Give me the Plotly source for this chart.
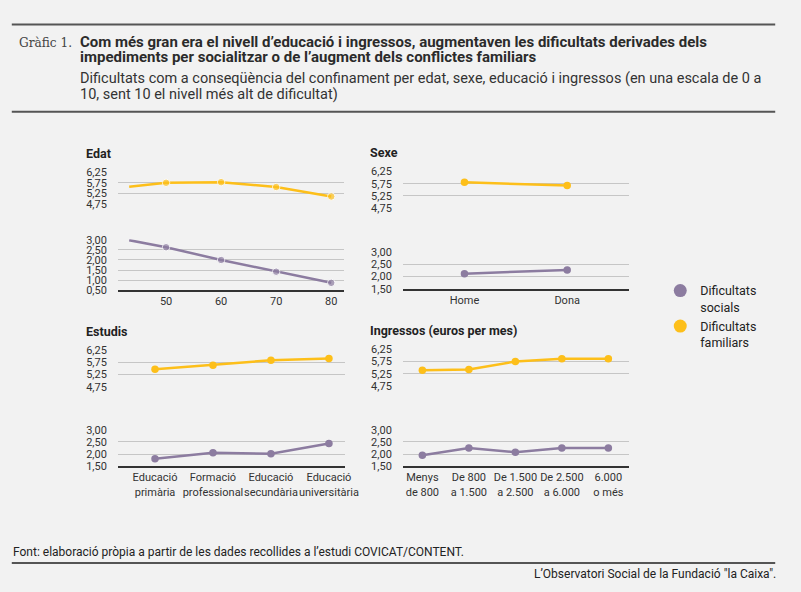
import plotly.graph_objects as go

W, H = 801, 592

# --- data ---
edat_x = [43.3, 50, 60, 70, 80]
edat_familiars = [5.56, 5.75, 5.78, 5.55, 5.10]
edat_socials = [2.98, 2.63, 2.00, 1.42, 0.87]

sexe_cat = ['Home', 'Dona']
sexe_familiars = [5.81, 5.68]
sexe_socials = [2.11, 2.26]

estudis_cat = ['Educació<br>primària', 'Formació<br>professional',
               'Educació<br>secundària', 'Educació<br>universitària']
estudis_familiars = [5.46, 5.63, 5.83, 5.90]
estudis_socials = [1.81, 2.06, 2.02, 2.44]

ingressos_cat = ['Menys<br>de 800', 'De 800<br>a 1.500', 'De 1.500<br>a 2.500',
                 'De 2.500<br>a 6.000', '6.000<br>o més']
ingressos_familiars = [5.40, 5.43, 5.75, 5.86, 5.86]
ingressos_socials = [1.96, 2.25, 2.08, 2.25, 2.25]

upper_ticks = [4.75, 5.25, 5.75, 6.25]
lower_ticks_edat = [0.5, 1.0, 1.5, 2.0, 2.5, 3.0]
lower_ticks = [1.5, 2.0, 2.5, 3.0]

purple = '#8c7ca0'
yellow = '#fdbf1a'
txt = '#333333'
bg = '#f2f2f2'
grid = '#c6c6c6'


def px(x):
    return x / W


def py(y):
    return 1 - y / H


fig = go.Figure()

# panels: (title, x pixel span, upper px span, lower px span, x data, fam, soc, xaxis opts, lower ticks)
panels = [
    ('Edat', (120, 350), (170, 202.3), (239, 290.7), edat_x, edat_familiars, edat_socials,
     dict(range=[41.25, 82.3], tickvals=[50, 60, 70, 80]), lower_ticks_edat),
    ('Sexe', (410, 640), (169.3, 206.7), (251.3, 289), sexe_cat, sexe_familiars, sexe_socials,
     dict(type='category', range=[-0.6, 1.6]), lower_ticks),
    ('Estudis', (120, 350.7), (351.7, 389.3), (433.3, 470.7), estudis_cat, estudis_familiars,
     estudis_socials, dict(type='category', range=[-0.64, 3.27]), lower_ticks),
    ('Ingressos (euros per mes)', (410, 640), (351, 388.7), (433.3, 470.7), ingressos_cat,
     ingressos_familiars, ingressos_socials, dict(type='category', range=[-0.42, 4.44]), lower_ticks),
]

pad = 0.03
for i, (title, xs, up, lo, xd, fam, soc, xopts, lticks) in enumerate(panels):
    xn = i + 1
    yu = 2 * i + 1
    yl = 2 * i + 2
    sizes = [0] + [7.5] * (len(xd) - 1) if title == 'Edat' else 7.5
    fig.add_trace(go.Scatter(x=xd, y=fam, mode='lines+markers', showlegend=False,
                             line=dict(color=yellow, width=2.5),
                             marker=dict(color=yellow, size=sizes),
                             xaxis=f'x{xn}', yaxis=f'y{yu}', hoverinfo='skip'))
    fig.add_trace(go.Scatter(x=xd, y=soc, mode='lines+markers', showlegend=False,
                             line=dict(color=purple, width=2.5),
                             marker=dict(color=purple, size=sizes),
                             xaxis=f'x{xn}', yaxis=f'y{yl}', hoverinfo='skip'))

    xkey = 'xaxis' if xn == 1 else f'xaxis{xn}'
    fig.layout[xkey] = dict(domain=[px(xs[0]), px(xs[1])], anchor=f'y{yl}',
                            showgrid=False, zeroline=False, showline=True,
                            linecolor='#333333', linewidth=1.5, ticks='', tickangle=0,
                            tickfont=dict(size=11, color=txt), fixedrange=True, **xopts)

    # upper segment: 4.75 - 6.25
    span = up[1] - up[0]
    ppu = span / 1.5
    fig.layout['yaxis' if yu == 1 else f'yaxis{yu}'] = dict(
        domain=[py(up[1] + pad * ppu), py(up[0] - pad * ppu)], anchor=f'x{xn}',
        range=[4.75 - pad, 6.25 + pad], tickvals=upper_ticks, tickformat='.2f',
        showgrid=True, gridcolor=grid, gridwidth=1, zeroline=False, showline=False,
        tickfont=dict(size=11, color=txt), ticklabelstandoff=10, fixedrange=True)

    # lower segment
    lspan = lticks[-1] - lticks[0]
    ppl = (lo[1] - lo[0]) / lspan
    fig.layout[f'yaxis{yl}'] = dict(
        domain=[py(lo[1]), py(lo[0] - pad * ppl)], anchor=f'x{xn}',
        range=[lticks[0], lticks[-1] + pad], tickvals=lticks, tickformat='.2f',
        showgrid=True, gridcolor=grid, gridwidth=1, zeroline=False, showline=False,
        tickfont=dict(size=11, color=txt), ticklabelstandoff=10, fixedrange=True)

    fig.add_annotation(text=f'<b>{title}</b>', x=px(xs[0] - 35), y=py(up[0] - 19),
                       xref='paper', yref='paper', xanchor='left', yanchor='middle',
                       showarrow=False, font=dict(size=12.5, color='#222222'))

# legend-only traces
fig.add_trace(go.Scatter(x=[None], y=[None], mode='markers', name='Dificultats<br>socials',
                         marker=dict(color=purple, size=13), xaxis='x2', yaxis='y4'))
fig.add_trace(go.Scatter(x=[None], y=[None], mode='markers', name='Dificultats<br>familiars',
                         marker=dict(color=yellow, size=13), xaxis='x2', yaxis='y4'))

# header
fig.add_annotation(text='Gràfic 1.', x=px(17), y=py(37), xref='paper', yref='paper',
                   xanchor='left', yanchor='middle', showarrow=False,
                   font=dict(family='DejaVu Serif Condensed, Liberation Serif, serif',
                             size=13.5, color='#444444'))
title_lines = ['Com més gran era el nivell d’educació i ingressos, augmentaven les dificultats '
               'derivades dels',
               'impediments per socialitzar o de l’augment dels conflictes familiars']
sub_lines = ['Dificultats com a conseqüència del confinament per edat, sexe, educació i '
             'ingressos (en una escala de 0 a',
             '10, sent 10 el nivell més alt de dificultat)']
for t, yy in zip(title_lines, [37, 52]):
    fig.add_annotation(text=f'<b>{t}</b>', x=px(79), y=py(yy), xref='paper', yref='paper',
                       xanchor='left', yanchor='middle', showarrow=False,
                       font=dict(size=15, color='#2b2b2b'))
for t, yy in zip(sub_lines, [74, 90]):
    fig.add_annotation(text=t, x=px(79), y=py(yy), xref='paper', yref='paper',
                       xanchor='left', yanchor='middle', showarrow=False,
                       font=dict(size=14.5, color='#333333'))

# footer
fig.add_annotation(text='Font: elaboració pròpia a partir de les dades recollides a l’estudi '
                        'COVICAT/CONTENT.',
                   x=px(11), y=py(558), xref='paper', yref='paper', xanchor='left',
                   yanchor='middle', showarrow=False,
                   font=dict(size=12, color='#222222'))
fig.add_annotation(text='L’Observatori Social de la Fundació "la Caixa".',
                   x=px(792), y=py(581), xref='paper', yref='paper', xanchor='right',
                   yanchor='middle', showarrow=False,
                   font=dict(size=12, color='#222222'))

for yy in [19, 108, 569.5]:
    fig.add_shape(type='line', xref='paper', yref='paper', x0=px(12), x1=px(789),
                  y0=py(yy), y1=py(yy), line=dict(color='#555555', width=2))

fig.update_layout(
    width=W, height=H,
    margin=dict(l=0, r=0, t=0, b=0),
    paper_bgcolor=bg, plot_bgcolor=bg,
    separators=',.',
    font=dict(family='Roboto, Arial, sans-serif', color=txt),
    legend=dict(x=px(672), y=py(276), xanchor='left', yanchor='top',
                bgcolor='rgba(0,0,0,0)', font=dict(size=12.5, color='#222222'),
                valign='top', tracegroupgap=12, itemwidth=30),
)

fig.write_html('out.html', post_script="document.body.style.margin='0';",
               config={'displayModeBar': False})
